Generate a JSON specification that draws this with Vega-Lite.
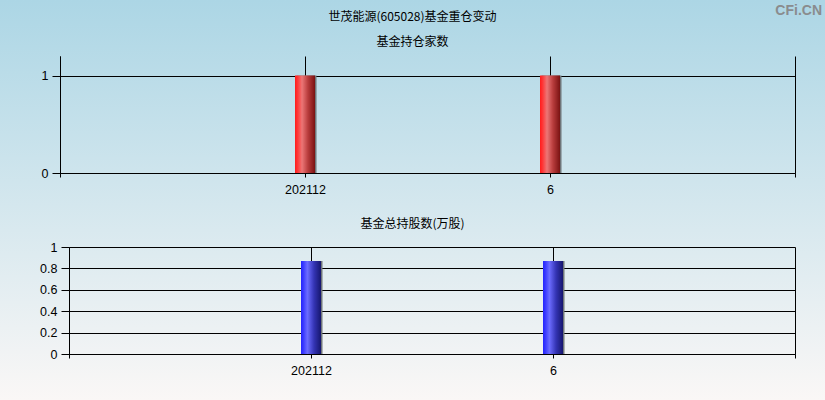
{
  "$schema": "https://vega.github.io/schema/vega-lite/v6.json",
  "padding": 0,
  "spacing": 0,
  "background": "#d4e7ee",
  "title": {
    "text": "CFi.CN",
    "anchor": "end",
    "orient": "top",
    "offset": -18,
    "dx": -3,
    "font": "Liberation Sans",
    "fontSize": 14,
    "fontWeight": "bold",
    "color": "#8a8c8e"
  },
  "datasets": {
    "holdings": [
      {"period": "202112", "slot": 1, "funds": 1, "shares": 0.87},
      {"period": "6", "slot": 2, "funds": 1, "shares": 0.87}
    ]
  },
  "config": {
    "font": "Noto Sans CJK SC",
    "axis": {
      "labelFont": "Liberation Sans",
      "labelFontSize": 12.5,
      "labelColor": "#000000",
      "domainColor": "#000000",
      "tickColor": "#000000",
      "gridColor": "#000000",
      "gridOpacity": 1,
      "gridWidth": 1,
      "domainWidth": 1,
      "tickWidth": 1,
      "minExtent": 0,
      "title": null
    },
    "title": {
      "font": "Noto Sans CJK SC",
      "fontSize": 12,
      "fontWeight": "normal",
      "color": "#000000",
      "subtitleFont": "Noto Sans CJK SC",
      "subtitleFontSize": 12,
      "subtitleColor": "#000000"
    }
  },
  "vconcat": [
    {
      "width": 825,
      "height": 205,
      "view": {
        "stroke": null,
        "fill": {
          "gradient": "linear",
          "x1": 0, "y1": 0, "x2": 0, "y2": 1,
          "stops": [
            {"offset": 0, "color": "#acd6e5"},
            {"offset": 1, "color": "#d4e7ee"}
          ]
        }
      },
      "title": {
        "text": "世茂能源(605028)基金重仓变动",
        "subtitle": "基金持仓家数",
        "subtitlePadding": 13,
        "anchor": "middle",
        "offset": -49
      },
      "data": {"name": "holdings"},
      "encoding": {
        "y": {
          "field": "funds",
          "type": "quantitative",
          "scale": {"domain": [0, 1.2], "range": [173, 56], "nice": false, "zero": false, "padding": 0},
          "axis": {
            "orient": "left",
            "offset": -60,
            "values": [0, 1],
            "format": "~g",
            "grid": true,
            "tickSize": 8,
            "labelPadding": 4
          }
        }
      },
      "layer": [
        {
          "mark": {"type": "bar", "size": 20, "xOffset": 1.5, "color": "#6f7579"},
          "encoding": {
            "x": {
              "field": "slot",
              "type": "quantitative",
              "scale": {"domain": [0, 3], "range": [60, 795], "nice": false, "zero": false, "padding": 0},
              "axis": {
                "orient": "top",
                "values": [0, 1, 2, 3],
                "grid": true,
                "domain": false,
                "ticks": false,
                "labels": false,
                "minExtent": 0
              }
            }
          }
        },
        {
          "mark": {
            "type": "bar",
            "size": 20,
            "color": {
              "gradient": "linear",
              "x1": 0, "y1": 0, "x2": 1, "y2": 0,
              "stops": [
                {"offset": 0, "color": "#ff1c1c"},
                {"offset": 0.12, "color": "#ff3434"},
                {"offset": 0.35, "color": "#ec7676"},
                {"offset": 0.65, "color": "#b83c3c"},
                {"offset": 1, "color": "#7a1212"}
              ]
            }
          },
          "encoding": {
            "x": {
              "field": "slot",
              "type": "quantitative",
              "scale": {"domain": [0, 3], "range": [60, 795], "nice": false, "zero": false, "padding": 0},
              "axis": {
                "orient": "bottom",
                "offset": -32,
                "values": [0, 1, 2, 3],
                "grid": false,
                "tickSize": 4,
                "labelPadding": 6,
                "labelFlush": false,
                "labelExpr": "datum.value == 1 ? '202112' : datum.value == 2 ? '6' : ''"
              }
            }
          }
        }
      ],
      "resolve": {"axis": {"x": "independent"}}
    },
    {
      "width": 825,
      "height": 195,
      "view": {
        "stroke": null,
        "fill": {
          "gradient": "linear",
          "x1": 0, "y1": 0, "x2": 0, "y2": 1,
          "stops": [
            {"offset": 0, "color": "#d4e7ee"},
            {"offset": 1, "color": "#faf7f6"}
          ]
        }
      },
      "title": {
        "text": "基金总持股数(万股)",
        "anchor": "middle",
        "offset": -26
      },
      "data": {"name": "holdings"},
      "encoding": {
        "y": {
          "field": "shares",
          "type": "quantitative",
          "scale": {"domain": [0, 1], "range": [149, 42], "nice": false, "zero": false, "padding": 0},
          "axis": {
            "orient": "left",
            "offset": -69,
            "values": [0, 0.2, 0.4, 0.6, 0.8, 1],
            "format": "~g",
            "grid": true,
            "tickSize": 8,
            "labelPadding": 4
          }
        }
      },
      "layer": [
        {
          "mark": {"type": "bar", "size": 20, "xOffset": 1.5, "color": "#6f7579"},
          "encoding": {
            "x": {
              "field": "slot",
              "type": "quantitative",
              "scale": {"domain": [0, 3], "range": [69, 795], "nice": false, "zero": false, "padding": 0},
              "axis": {
                "orient": "top",
                "values": [0, 1, 2, 3],
                "grid": true,
                "domain": false,
                "ticks": false,
                "labels": false,
                "minExtent": 0
              }
            }
          }
        },
        {
          "mark": {
            "type": "bar",
            "size": 20,
            "color": {
              "gradient": "linear",
              "x1": 0, "y1": 0, "x2": 1, "y2": 0,
              "stops": [
                {"offset": 0, "color": "#2424ff"},
                {"offset": 0.12, "color": "#3a3aff"},
                {"offset": 0.32, "color": "#6c6cff"},
                {"offset": 0.65, "color": "#3434b4"},
                {"offset": 1, "color": "#16166e"}
              ]
            }
          },
          "encoding": {
            "x": {
              "field": "slot",
              "type": "quantitative",
              "scale": {"domain": [0, 3], "range": [69, 795], "nice": false, "zero": false, "padding": 0},
              "axis": {
                "orient": "bottom",
                "offset": -46,
                "values": [0, 1, 2, 3],
                "grid": false,
                "tickSize": 4,
                "labelPadding": 6,
                "labelFlush": false,
                "labelExpr": "datum.value == 1 ? '202112' : datum.value == 2 ? '6' : ''"
              }
            }
          }
        }
      ],
      "resolve": {"axis": {"x": "independent"}}
    }
  ]
}
